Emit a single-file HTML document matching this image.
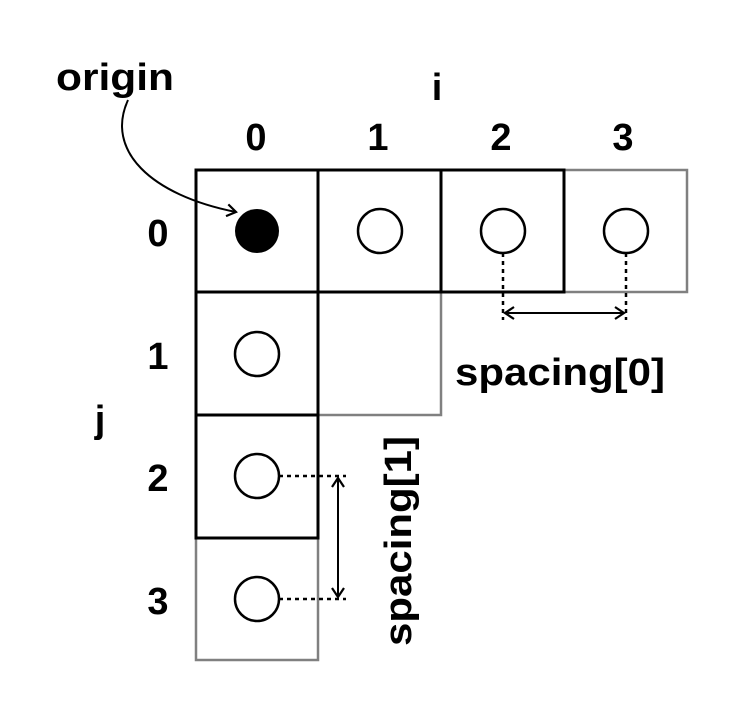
<!DOCTYPE html>
<html><head><style>html,body{margin:0;padding:0;background:#fff}</style></head><body>
<svg width="748" height="705" viewBox="0 0 748 705" xmlns="http://www.w3.org/2000/svg" font-family="Liberation Sans, sans-serif" font-weight="bold">
<defs>
<marker id="ah" markerWidth="14" markerHeight="14" refX="11" refY="7" orient="auto-start-reverse" markerUnits="userSpaceOnUse">
<path d="M2,1 L11,7 L2,13" fill="none" stroke="#000" stroke-width="2.2"/>
</marker>
</defs>
<rect x="0" y="0" width="748" height="705" fill="#fff"/>
<g fill="none" stroke="#808080" stroke-width="2.5">
<rect x="564" y="170" width="123" height="122"/>
<rect x="318" y="292" width="123" height="123"/>
<rect x="196" y="538" width="122" height="122"/>
</g>
<g fill="none" stroke="#000" stroke-width="3">
<rect x="196" y="170" width="122" height="122"/>
<rect x="318" y="170" width="123" height="122"/>
<rect x="441" y="170" width="123" height="122"/>
<rect x="196" y="292" width="122" height="123"/>
<rect x="196" y="415" width="122" height="123"/>
</g>
<circle cx="257" cy="231" r="22" fill="#000"/>
<g fill="none" stroke="#000" stroke-width="2.5">
<circle cx="380" cy="231" r="22"/>
<circle cx="503" cy="231" r="22"/>
<circle cx="626" cy="231" r="22"/>
<circle cx="257" cy="354" r="22"/>
<circle cx="257" cy="476" r="22"/>
<circle cx="257" cy="599" r="22"/>
</g>
<g stroke="#000" stroke-width="2.5" stroke-dasharray="4,4" fill="none">
<line x1="503" y1="253" x2="503" y2="320"/>
<line x1="626" y1="253" x2="626" y2="320"/>
<line x1="279" y1="476" x2="346" y2="476"/>
<line x1="279" y1="599" x2="346" y2="599"/>
</g>
<g stroke="#000" stroke-width="2" fill="none">
<line x1="505" y1="313" x2="624" y2="313" marker-end="url(#ah)" marker-start="url(#ah)"/>
<line x1="338" y1="478" x2="338" y2="597" marker-end="url(#ah)" marker-start="url(#ah)"/>
<path d="M128,100 C105,150 150,195 236,212" marker-end="url(#ah)"/>
</g>
<g font-size="38" fill="#000" text-anchor="middle">
<text x="115" y="90" textLength="118" lengthAdjust="spacingAndGlyphs">origin</text>
<text x="437" y="100">i</text>
<text x="256" y="150">0</text>
<text x="378" y="150">1</text>
<text x="501" y="150">2</text>
<text x="623" y="150">3</text>
<text x="158" y="246">0</text>
<text x="158" y="369">1</text>
<text x="158" y="491">2</text>
<text x="158" y="614">3</text>
<text x="100" y="432">j</text>
<text x="560" y="385" textLength="210" lengthAdjust="spacingAndGlyphs">spacing[0]</text>
<text transform="translate(411,541) rotate(-90)" textLength="210" lengthAdjust="spacingAndGlyphs">spacing[1]</text>
</g>
</svg>
</body></html>
